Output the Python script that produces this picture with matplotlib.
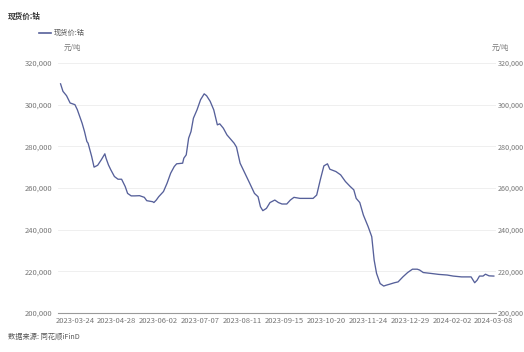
import matplotlib
matplotlib.use("Agg")
import matplotlib.pyplot as plt
import matplotlib.dates as mdates
import matplotlib.ticker as mticker
import pandas as pd

plt.rcParams["font.family"] = ["Noto Sans CJK SC", "DejaVu Sans"]

TITLE = "现货价:钴"
SERIES = "现货价:钴"
UNIT = "元/吨"
SOURCE = "数据来源: 同花顺iFinD"

# values (approximate)
dates = ["2023-03-12", "2023-03-14", "2023-03-17", "2023-03-20", "2023-03-24", "2023-03-26",
         "2023-03-30", "2023-04-01", "2023-04-03", "2023-04-04", "2023-04-07", "2023-04-09",
         "2023-04-12", "2023-04-15", "2023-04-18", "2023-04-19", "2023-04-21", "2023-04-23",
         "2023-04-26", "2023-04-29", "2023-05-02", "2023-05-05", "2023-05-07", "2023-05-10",
         "2023-05-13", "2023-05-17", "2023-05-21", "2023-05-23", "2023-05-28", "2023-05-29",
         "2023-05-31", "2023-06-02", "2023-06-06", "2023-06-09", "2023-06-12", "2023-06-15",
         "2023-06-17", "2023-06-22", "2023-06-23", "2023-06-25", "2023-06-27", "2023-06-29",
         "2023-07-01", "2023-07-04", "2023-07-07", "2023-07-10", "2023-07-12", "2023-07-15",
         "2023-07-18", "2023-07-21", "2023-07-23", "2023-07-26", "2023-07-29", "2023-08-04",
         "2023-08-06", "2023-08-09", "2023-08-13", "2023-08-17", "2023-08-21", "2023-08-24",
         "2023-08-26", "2023-08-28", "2023-08-31", "2023-09-03", "2023-09-07", "2023-09-10",
         "2023-09-13", "2023-09-17", "2023-09-20", "2023-09-23", "2023-09-28", "2023-10-05",
         "2023-10-09", "2023-10-12", "2023-10-15", "2023-10-18", "2023-10-21", "2023-10-23",
         "2023-10-28", "2023-11-01", "2023-11-05", "2023-11-09", "2023-11-12", "2023-11-14",
         "2023-11-17", "2023-11-20", "2023-11-24", "2023-11-27", "2023-11-29", "2023-12-01",
         "2023-12-04", "2023-12-07", "2023-12-09", "2023-12-12", "2023-12-16", "2023-12-19",
         "2023-12-23", "2023-12-27", "2023-12-31", "2024-01-04", "2024-01-06", "2024-01-09",
         "2024-01-15", "2024-01-22", "2024-01-29", "2024-02-03", "2024-02-10", "2024-02-18",
         "2024-02-21", "2024-02-23", "2024-02-25", "2024-02-28", "2024-03-01", "2024-03-04",
         "2024-03-08"]
prices = [310000, 306400, 304300, 300800, 300000, 297600,
          291100, 287100, 282300, 281500, 275100, 270000,
          270900, 273500, 276400, 274300, 271100, 268700,
          265500, 264200, 264200, 260700, 257400, 256200,
          256200, 256300, 255500, 253900, 253400, 253000,
          254200, 255800, 258300, 262300, 267100, 270300,
          271600, 271900, 274300, 275900, 283900, 287100,
          293500, 297500, 302400, 305200, 304300, 301600,
          297500, 290300, 290800, 288700, 285500, 281500,
          279600, 271900, 267100, 262300, 257400, 255800,
          251000, 249100, 250200, 253000, 254200, 253000,
          252300, 252300, 254200, 255500, 255000, 255000,
          255000, 256600, 263900, 270600, 271600, 269000,
          267900, 266300, 263100, 260700, 259100, 255000,
          253000, 247000, 241400, 236600, 225400, 219000,
          214100, 212900, 213300, 213800, 214500, 214900,
          217300, 219400, 221000, 221000, 220600, 219400,
          219000, 218500, 218200, 217700, 217300, 217300,
          214500, 215700, 217700, 217700, 218600, 217800,
          217700]

tick_dates = ["2023-03-24", "2023-04-28", "2023-06-02", "2023-07-07", "2023-08-11", "2023-09-15",
              "2023-10-20", "2023-11-24", "2023-12-29", "2024-02-02", "2024-03-08"]
y_ticks = [200000, 220000, 240000, 260000, 280000, 300000, 320000]

x = pd.to_datetime(dates)
LABEL_C = "#777777"
LINE_C = "#56609a"

fig = plt.figure(figsize=(5.24, 3.52), dpi=100)
ax = fig.add_axes([0.111, 0.111, 0.836, 0.710])
ax.plot(x, prices, color=LINE_C, lw=0.95)

ax.set_xlim(pd.Timestamp("2023-03-10"), pd.Timestamp("2024-03-10"))
ax.set_ylim(200000, 320000)
ax.set_yticks(y_ticks)
ax.yaxis.set_major_formatter(mticker.FuncFormatter(lambda v, p: f"{int(v):,}"))
ax.set_xticks(pd.to_datetime(tick_dates))
ax.xaxis.set_major_formatter(mdates.DateFormatter("%Y-%m-%d"))
ax.grid(axis="y", color="#ececec", lw=0.6)
ax.set_axisbelow(True)
for s in ["top", "left", "right"]:
    ax.spines[s].set_visible(False)
ax.spines["bottom"].set_color("#9a9a9a"); ax.spines["bottom"].set_linewidth(0.8)
ax.tick_params(axis="both", length=0, labelsize=5.5, labelcolor=LABEL_C, pad=3)
ax.tick_params(axis="y", pad=4)

# mirrored right axis labels
ax2 = ax.twinx()
ax2.set_ylim(ax.get_ylim())
ax2.set_yticks(y_ticks)
ax2.yaxis.set_major_formatter(mticker.FuncFormatter(lambda v, p: f"{int(v):,}"))
for s in ax2.spines.values():
    s.set_visible(False)
ax2.tick_params(axis="y", length=0, labelsize=5.2, labelcolor=LABEL_C, pad=1)

fig.text(0.015, 0.955, TITLE, fontsize=5.5, color="#333333", fontweight="bold", va="center")
fig.lines.append(plt.Line2D([0.075, 0.097], [0.907, 0.907], transform=fig.transFigure,
                            color=LINE_C, lw=1.2))
fig.text(0.102, 0.907, SERIES, fontsize=5.2, color="#555555", va="center")
fig.text(0.122, 0.865, UNIT, fontsize=5.2, color=LABEL_C, va="center")
fig.text(0.938, 0.865, UNIT, fontsize=5.2, color=LABEL_C, va="center")
fig.text(0.015, 0.042, SOURCE, fontsize=5.2, color="#555555", va="center")

fig.savefig("out.png", dpi=100)
